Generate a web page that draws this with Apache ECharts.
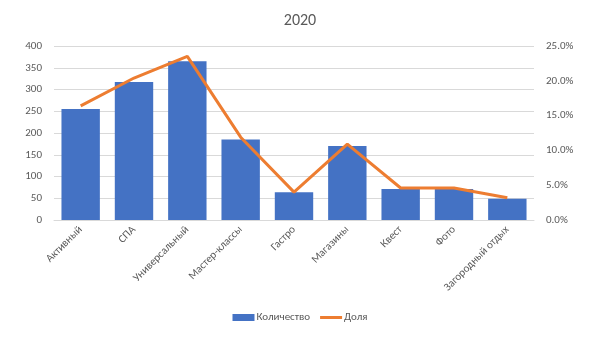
<!DOCTYPE html>
<html><head><meta charset="utf-8">
<script src="https://cdn.jsdelivr.net/npm/echarts@6/dist/echarts.min.js"></script>
<style>html,body{margin:0;padding:0;background:#fff}#c{width:600px;height:337px}</style>
</head><body><div id="c"></div>
<script>
const categories = ['Активный','СПА','Универсальный','Мастер-классы','Гастро','Магазины','Квест','Фото','Загородный отдых'];
const counts = [255, 317, 365, 185, 64, 170, 71, 71, 49];
const shares = [0.164, 0.204, 0.235, 0.119, 0.040, 0.109, 0.046, 0.046, 0.032];
const title = '2020';
const seriesNames = ['Количество','Доля'];

const chart = echarts.init(document.getElementById('c'));
const font = 'Calibri, Carlito, "Open Sans", "Liberation Sans", sans-serif';
chart.setOption({
  animation:false,
  title:{text:title,left:'center',top:8,textStyle:{color:'#595959',fontSize:16,fontWeight:'normal',fontFamily:font}},
  legend:{bottom:9,left:'center',itemWidth:22,itemHeight:7,itemGap:10,symbolKeepAspect:true,
    textStyle:{color:'#595959',fontSize:11,fontFamily:font,padding:[0,0,0,-3]},
    data:[{name:seriesNames[0],icon:'rect'},{name:seriesNames[1],icon:'path://M0,0L22,0L22,3L0,3Z'}]},
  grid:{left:54,right:66,top:46,bottom:117},
  xAxis:{type:'category',data:categories,
    axisLine:{lineStyle:{color:'#d9d9d9'}},axisTick:{show:false},
    axisLabel:{rotate:45,interval:0,color:'#595959',fontSize:11,fontFamily:font,margin:8}},
  yAxis:[
    {type:'value',min:0,max:400,interval:50,
      axisLine:{show:false},axisTick:{show:false},
      splitLine:{lineStyle:{color:'#d9d9d9'}},
      axisLabel:{color:'#595959',fontSize:11,fontFamily:font,margin:12}},
    {type:'value',min:0,max:0.25,interval:0.05,
      axisLine:{show:false},axisTick:{show:false},splitLine:{show:false},
      axisLabel:{color:'#595959',fontSize:11,fontFamily:font,margin:12,
        formatter:v=>(v*100).toFixed(1)+'%'}}
  ],
  series:[
    {name:seriesNames[0],type:'bar',data:counts,barCategoryGap:'28%',itemStyle:{color:'#4472C4'}},
    {name:seriesNames[1],type:'line',yAxisIndex:1,data:shares,symbol:'none',
      lineStyle:{color:'#ED7D31',width:3},itemStyle:{color:'#ED7D31'}}
  ]
});
</script></body></html>
